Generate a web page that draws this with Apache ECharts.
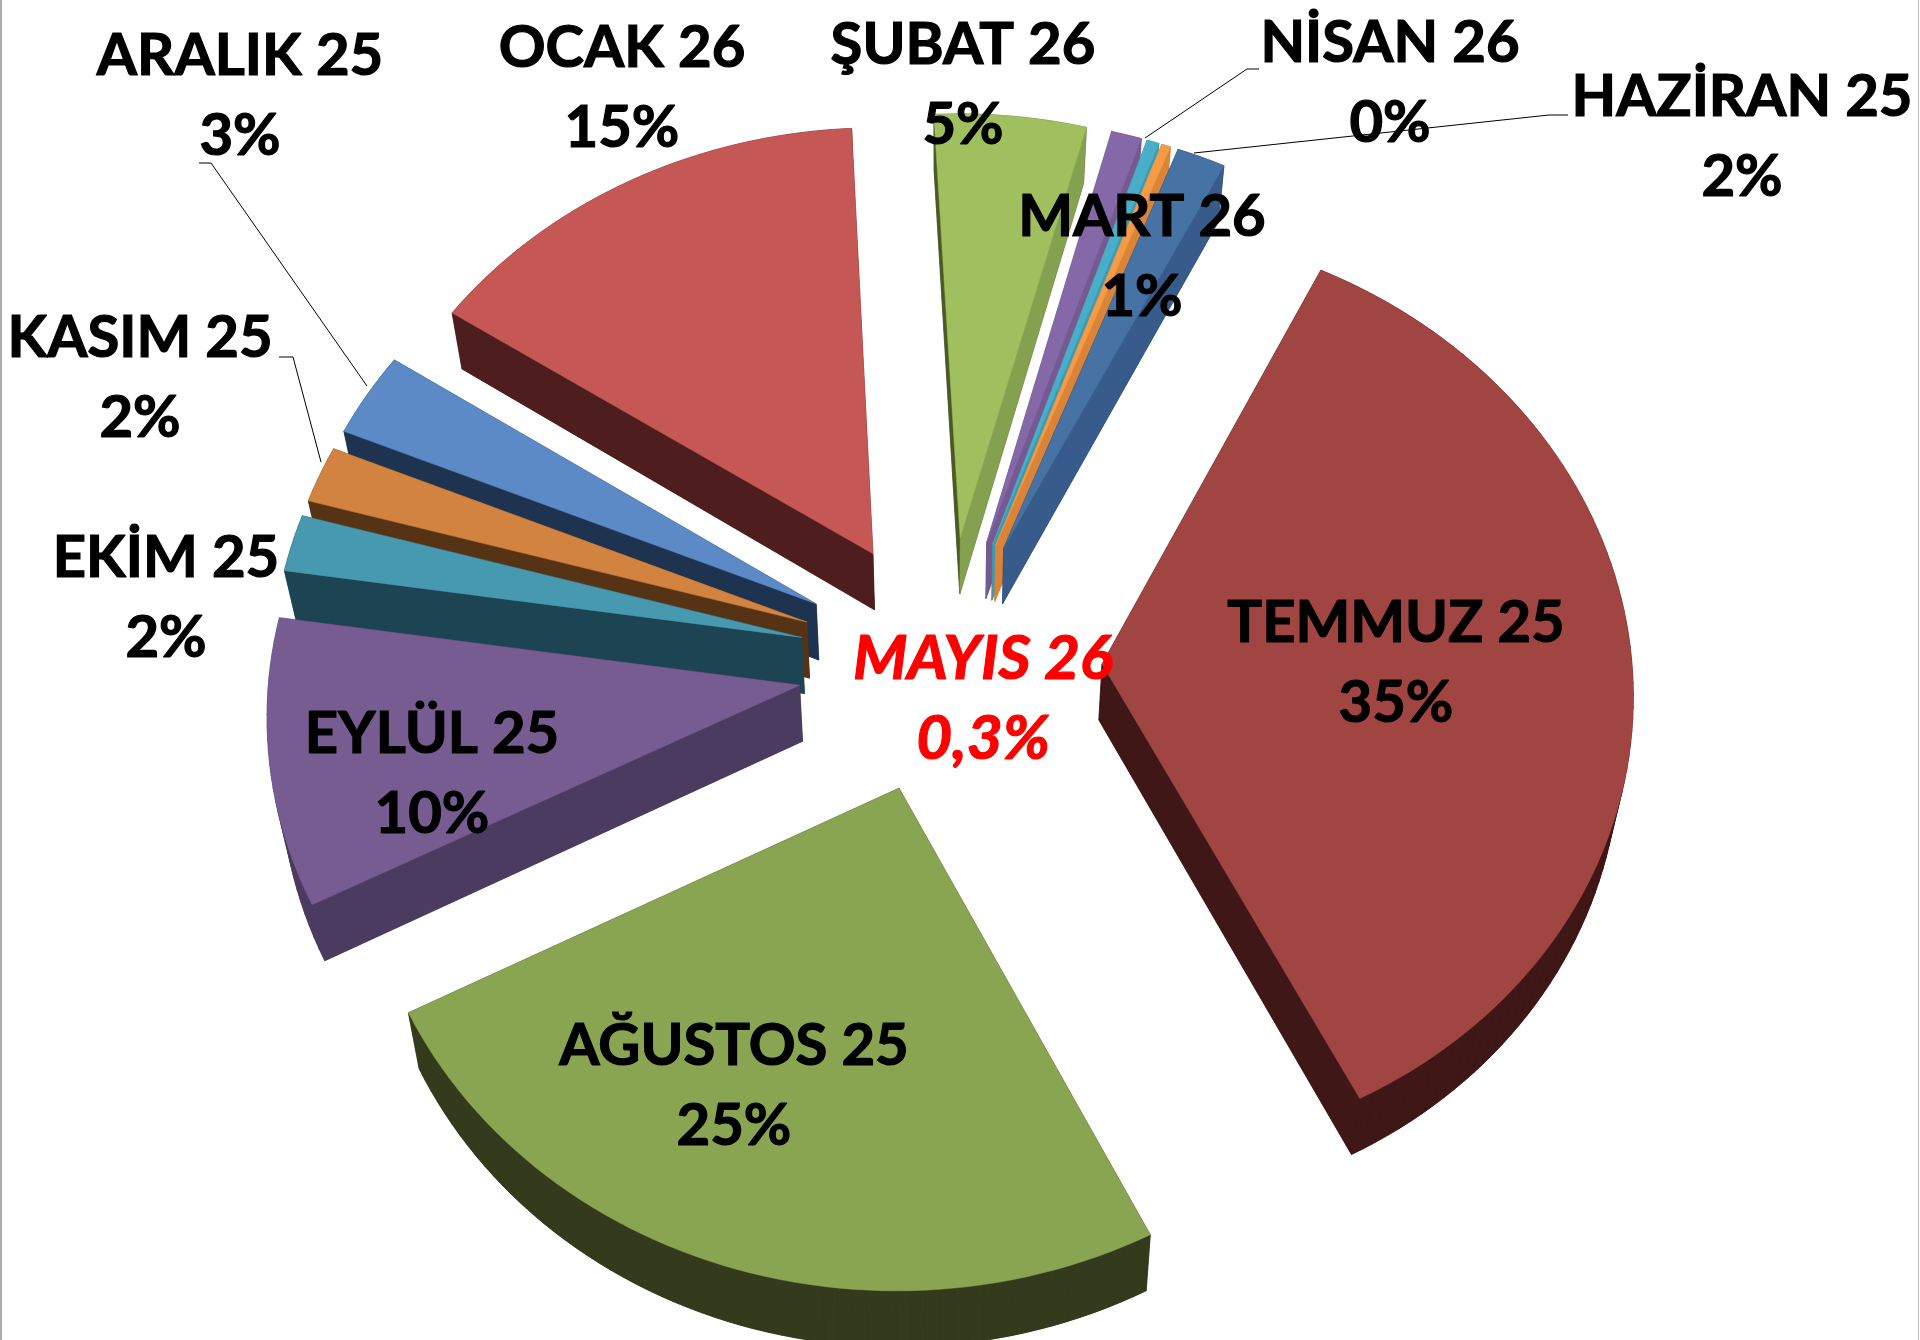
<!DOCTYPE html>
<html><head><meta charset="utf-8">
<style>html,body{margin:0;padding:0;background:#fff;overflow:hidden}#c{width:1920px;height:1340px}</style>
<script src="https://cdn.jsdelivr.net/npm/echarts@6/dist/echarts.min.js"></script>
</head><body><div id="c"></div>
<script>
// Data (order as in the source chart, clockwise)
const categories = ['HAZİRAN 25','TEMMUZ 25','AĞUSTOS 25','EYLÜL 25','EKİM 25','KASIM 25','ARALIK 25','OCAK 26','ŞUBAT 26','MART 26','NİSAN 26','MAYIS 26'];
const values = [1.6,35.4,25,10,2,2,3,15,5,1,0.4,0.3];
const valueLabels = ['2%','35%','25%','10%','2%','2%','3%','15%','5%','1%','0%','0,3%'];

// Styles
const topColors  = ['#4672A4','#A04542','#8AA552','#775C92','#4799B0','#D38340','#5B8AC6','#C55755','#A0C060','#8468A8','#4BAEC8','#F59A45'];
const wallColors = ['#1E3350','#3F1716','#343A1C','#4C3B60','#1C4452','#573316','#1E3350','#4E1E1E','#4A5A25','#5A4675','#2C7C90','#C77A34'];
const endWallColors = ['#375B8A','#3F1716','#343A1C','#4C3B60','#1C4452','#573316','#1E3350','#4E1E1E','#84A14F','#75598F','#3C9BB2','#D98438'];
const explode = [147,157,147,147,147,147,147,147,147,147,147,147];
const labelPos = [[1742,137],[1396,663],[734,1086],[432,774],[166,598],[140,378],[240,96],[622,88],[963,85],[1142,257],[1390,83],[983,699]];
const leaders = [
 [[1568,115],[1549,115],[1194,153]],
 null,null,null,null,
 [[279,357],[293,357],[321,462]],
 [[199,163],[211,163],[367,386]],
 null,null,null,
 [[1259,69],[1247,69],[1145,138]],
 null];
// Tops of a purple caption cut off by the bottom edge of the picture
const clippedCaption = [['Ü',566],['İ',890],['İ',1156]];

const CX=945, CY=664, R=530, K=0.875, P=0.055, DEPTH=56, BOTTOM_SCALE=0.98, START=21;
const total = values.reduce((a,b)=>a+b,0);
const rad = d=>d*Math.PI/180;
const spans=[]; { let a=START; values.forEach(v=>{const s=v/total*360; spans.push([a,a+s]); a+=s;}); }

function project(X,Y,low){
  const s=1+P*Y/R;
  let x=X*s, y=Y*K*s;
  if(low){ x*=BOTTOM_SCALE; y=y+DEPTH; }
  return [CX+x, CY+y];
}
function renderSlice(params,api){
  const i=params.dataIndex, [a0,a1]=spans[i], mid=(a0+a1)/2, e=explode[i];
  const ox=Math.sin(rad(mid))*e, oy=-Math.cos(rad(mid))*e;
  const n=Math.max(2,Math.ceil((a1-a0)/1.5));
  const arc=[];
  for(let j=0;j<=n;j++){const a=rad(a0+(a1-a0)*j/n); arc.push([ox+Math.sin(a)*R, oy-Math.cos(a)*R]);}
  const pts=low=>[[ox,oy]].concat(arc).map(p=>project(p[0],p[1],low));
  const top=pts(false), bot=pts(true);
  const z=Math.round((-Math.cos(rad(mid))+1)*1000)*10 + (mid>0&&mid<60? i:0);
  const poly=(points,fill,dz)=>({type:'polygon',z2:z+dz,shape:{points},style:{fill,stroke:fill,lineWidth:0.5}});
  const children=[poly(bot,wallColors[i],0)];
  for(let j=1;j<top.length-1;j++) children.push(poly([top[j],top[j+1],bot[j+1],bot[j]],wallColors[i],1));
  children.push(poly([top[0],top[1],bot[1],bot[0]],wallColors[i],2));
  const L=top.length-1;
  children.push(poly([top[0],top[L],bot[L],bot[0]],endWallColors[i],2));
  children.push(poly(top,topColors[i],3));
  return {type:'group',children};
}
function renderLabel(params,api){
  const i=params.dataIndex, [x,y]=labelPos[i];
  const red=categories[i]==='MAYIS 26';
  const color=red?'#FF0000':'#000';
  const children=[{type:'text',z2:100,style:{x,y,text:categories[i]+'\n'+valueLabels[i],align:'center',verticalAlign:'middle',
    font:(red?'italic bold 62px':'bold 58px')+' Lato, sans-serif',lineHeight:80,fill:color,stroke:color,lineWidth:1.2}}];
  if(leaders[i]) children.push({type:'polyline',z2:90,shape:{points:leaders[i]},style:{stroke:'#000',lineWidth:1,fill:null}});
  return {type:'group',children};
}
const chart=echarts.init(document.getElementById('c'),null,{renderer:'canvas'});
chart.setOption({
  animation:false,
  series:[
    {type:'custom',coordinateSystem:'none',renderItem:renderSlice,silent:true,clip:false,
      data:categories.map((c,i)=>({name:c,value:[values[i]]}))},
    {type:'custom',coordinateSystem:'none',renderItem:renderLabel,silent:true,clip:false,z:5,
      data:categories.map((c,i)=>({name:c,value:[values[i]]}))}
  ],
  graphic:[
    {type:'line',silent:true,shape:{x1:1,y1:0,x2:1,y2:1340},style:{stroke:'#aaa',lineWidth:2}},
    {type:'line',silent:true,shape:{x1:1918.5,y1:0,x2:1918.5,y2:1340},style:{stroke:'#bbb',lineWidth:1}}
  ].concat(clippedCaption.map(([t,x])=>({type:'text',silent:true,z:1,style:{x,y:1389,text:t,align:'center',verticalAlign:'alphabetic',font:'bold 58px Lato, sans-serif',fill:'#7030A0'}})))
});
</script></body></html>
